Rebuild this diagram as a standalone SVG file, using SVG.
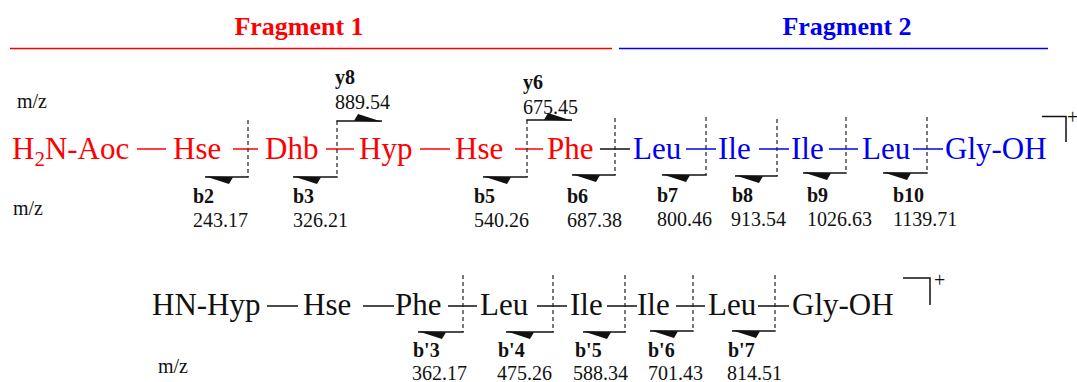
<svg xmlns="http://www.w3.org/2000/svg" xmlns:xlink="http://www.w3.org/1999/xlink" width="1077" height="382" viewBox="0 0 1077 382">
<style>
.res{font-family:"Liberation Serif","Times New Roman",serif;font-size:31px}
.red{fill:#f00}
.blue{fill:#0000f0}
.blk{fill:#111}
.ttl{font-family:"Liberation Serif","Times New Roman",serif;font-size:26px;font-weight:bold;text-anchor:middle}
.lab{font-family:"Liberation Serif","Times New Roman",serif;font-size:20px;font-weight:bold;fill:#111}
.num{font-family:"Liberation Serif","Times New Roman",serif;font-size:20px;fill:#111}
.bondR{stroke:#f00;stroke-width:1.5;fill:none}
.bondB{stroke:#0000f0;stroke-width:1.5;fill:none}
.bondK{stroke:#111;stroke-width:1.5;fill:none}
.cut{stroke:#222;stroke-width:1.2;stroke-dasharray:4 3;fill:none}
.brk{stroke:#111;stroke-width:1.5;fill:none}
.wedge{fill:#111}
</style>
<defs>
<path id="wb" d="M0,-0.8 L28,0.2 L24,7 Z"/>
<path id="wy" d="M0,0.8 L-28,-0.2 L-24,-7 Z"/>
</defs>
<rect width="1077" height="382" fill="#fff"/>

<g id="fragment-headers">
<text class="ttl red" x="299" y="35">Fragment 1</text>
<line x1="10" y1="48.5" x2="612" y2="48.5" stroke="#f00" stroke-width="1.6"/>
<text class="ttl blue" x="847" y="35">Fragment 2</text>
<line x1="619" y1="48.5" x2="1048" y2="48.5" stroke="#0000f0" stroke-width="1.6"/>
</g>

<g id="connectors">
<line class="bondR" x1="137" y1="149" x2="166" y2="149"/>
<line class="bondR" x1="233" y1="149" x2="258" y2="149"/>
<line class="bondR" x1="326" y1="149" x2="354" y2="149"/>
<line class="bondR" x1="420" y1="149" x2="450" y2="149"/>
<line class="bondR" x1="515" y1="149" x2="543" y2="149"/>
<line class="bondK" x1="600" y1="149" x2="630" y2="149"/>
<line class="bondB" x1="686" y1="149" x2="716" y2="149"/>
<line class="bondB" x1="759" y1="149" x2="789" y2="149"/>
<line class="bondB" x1="829" y1="149" x2="858" y2="149"/>
<line class="bondB" x1="913" y1="149" x2="943" y2="149"/>
<line class="bondK" x1="267" y1="306" x2="298" y2="306"/>
<line class="bondK" x1="363" y1="306" x2="394" y2="306"/>
<line class="bondK" x1="448" y1="306" x2="477" y2="306"/>
<line class="bondK" x1="537" y1="306" x2="567" y2="306"/>
<line class="bondK" x1="607" y1="306" x2="637" y2="306"/>
<line class="bondK" x1="676" y1="306" x2="705" y2="306"/>
<line class="bondK" x1="758" y1="306" x2="789" y2="306"/>
</g>

<g id="peptide-1">
<g id="r1-aoc"><text class="res red" x="12" y="159">H<tspan font-size="21" dy="7">2</tspan><tspan dy="-7">N-Aoc</tspan></text></g>
<g id="r1-hse1"><text class="res red" x="173" y="159">Hse</text></g>
<g id="r1-dhb"><text class="res red" x="265" y="159">Dhb</text></g>
<g id="r1-hyp"><text class="res red" x="359" y="159">Hyp</text></g>
<g id="r1-hse2"><text class="res red" x="455" y="159">Hse</text></g>
<g id="r1-phe"><text class="res red" x="547" y="159">Phe</text></g>
<g id="r1-leu1"><text class="res blue" x="633" y="159">Leu</text></g>
<g id="r1-ile1"><text class="res blue" x="718" y="159">Ile</text></g>
<g id="r1-ile2"><text class="res blue" x="791" y="159">Ile</text></g>
<g id="r1-leu2"><text class="res blue" x="862" y="159">Leu</text></g>
<g id="r1-gly"><text class="res blue" x="945" y="159">Gly-OH</text></g>
<g id="r1-charge">
<path class="brk" d="M1042,116.5 H1066 V142"/>
<text class="num" x="1067" y="124" font-size="12">+</text>
</g>
<text class="num" x="17" y="108">m/z</text>
<text class="num" x="13" y="215">m/z</text>
</g>

<g id="ions-1">
<g id="b2"><line class="cut" x1="248" y1="120" x2="248" y2="177"/><line class="brk" x1="205" y1="177" x2="248.7" y2="177"/><use href="#wb" x="205" y="177" class="wedge"/>
<text class="lab" x="193" y="203">b2</text><text class="num" x="193" y="227">243.17</text></g>
<g id="b3-y8"><line class="cut" x1="337" y1="121" x2="337" y2="177"/><line class="brk" x1="293" y1="177" x2="337.7" y2="177"/><use href="#wb" x="293" y="177" class="wedge"/>
<text class="lab" x="293" y="203">b3</text><text class="num" x="293" y="227">326.21</text>
<line class="brk" x1="336.3" y1="121" x2="382" y2="121"/><use href="#wy" x="382" y="121" class="wedge"/>
<text class="lab" x="335" y="84">y8</text><text class="num" x="335" y="109">889.54</text></g>
<g id="b5-y6"><line class="cut" x1="527" y1="120" x2="527" y2="177"/><line class="brk" x1="483" y1="177" x2="527.7" y2="177"/><use href="#wb" x="483" y="177" class="wedge"/>
<text class="lab" x="474" y="203">b5</text><text class="num" x="474" y="227">540.26</text>
<line class="brk" x1="526.3" y1="120" x2="572" y2="120"/><use href="#wy" x="572" y="120" class="wedge"/>
<text class="lab" x="523" y="89">y6</text><text class="num" x="523" y="114">675.45</text></g>
<g id="b6"><line class="cut" x1="615" y1="118" x2="615" y2="175"/><line class="brk" x1="572" y1="175" x2="615.7" y2="175"/><use href="#wb" x="572" y="175" class="wedge"/>
<text class="lab" x="567" y="203">b6</text><text class="num" x="567" y="227">687.38</text></g>
<g id="b7"><line class="cut" x1="706" y1="117" x2="706" y2="175"/><line class="brk" x1="662" y1="175" x2="706.7" y2="175"/><use href="#wb" x="662" y="175" class="wedge"/>
<text class="lab" x="657" y="202">b7</text><text class="num" x="657" y="226">800.46</text></g>
<g id="b8"><line class="cut" x1="777" y1="119" x2="777" y2="176"/><line class="brk" x1="735" y1="176" x2="777.7" y2="176"/><use href="#wb" x="735" y="176" class="wedge"/>
<text class="lab" x="732" y="202">b8</text><text class="num" x="731" y="226">913.54</text></g>
<g id="b9"><line class="cut" x1="846" y1="117" x2="846" y2="173"/><line class="brk" x1="803" y1="173" x2="846.7" y2="173"/><use href="#wb" x="803" y="173" class="wedge"/>
<text class="lab" x="807" y="202">b9</text><text class="num" x="807" y="226">1026.63</text></g>
<g id="b10"><line class="cut" x1="927" y1="117" x2="927" y2="173"/><line class="brk" x1="883" y1="173" x2="927.7" y2="173"/><use href="#wb" x="883" y="173" class="wedge"/>
<text class="lab" x="893" y="202">b10</text><text class="num" x="893" y="226">1139.71</text></g>
</g>

<g id="peptide-2">
<g id="r2-hyp"><text class="res blk" x="152" y="315">HN-Hyp</text></g>
<g id="r2-hse"><text class="res blk" x="303" y="315">Hse</text></g>
<g id="r2-phe"><text class="res blk" x="395" y="315">Phe</text></g>
<g id="r2-leu1"><text class="res blk" x="480" y="315">Leu</text></g>
<g id="r2-ile1"><text class="res blk" x="570" y="315">Ile</text></g>
<g id="r2-ile2"><text class="res blk" x="637" y="315">Ile</text></g>
<g id="r2-leu2"><text class="res blk" x="708" y="315">Leu</text></g>
<g id="r2-gly"><text class="res blk" x="792" y="315">Gly-OH</text></g>
<g id="r2-charge">
<path class="brk" d="M903,278 H930 V305"/>
<text class="num" x="934" y="287" font-size="19">+</text>
</g>
<text class="num" x="158" y="373">m/z</text>
</g>

<g id="ions-2">
<g id="bp3"><line class="cut" x1="463" y1="275" x2="463" y2="332"/><line class="brk" x1="418" y1="332" x2="463.7" y2="332"/><use href="#wb" x="418" y="332" class="wedge"/>
<text class="lab" x="413" y="357">b'3</text><text class="num" x="412" y="380">362.17</text></g>
<g id="bp4"><line class="cut" x1="553" y1="275" x2="553" y2="332"/><line class="brk" x1="506" y1="332" x2="553.7" y2="332"/><use href="#wb" x="506" y="332" class="wedge"/>
<text class="lab" x="498" y="357">b'4</text><text class="num" x="497" y="380">475.26</text></g>
<g id="bp5"><line class="cut" x1="625" y1="275" x2="625" y2="332"/><line class="brk" x1="583" y1="332" x2="625.7" y2="332"/><use href="#wb" x="583" y="332" class="wedge"/>
<text class="lab" x="575" y="357">b'5</text><text class="num" x="573" y="380">588.34</text></g>
<g id="bp6"><line class="cut" x1="693" y1="275" x2="693" y2="331"/><line class="brk" x1="650" y1="331" x2="693.7" y2="331"/><use href="#wb" x="650" y="331" class="wedge"/>
<text class="lab" x="648" y="357">b'6</text><text class="num" x="648" y="380">701.43</text></g>
<g id="bp7"><line class="cut" x1="775" y1="275" x2="775" y2="331"/><line class="brk" x1="732" y1="331" x2="775.7" y2="331"/><use href="#wb" x="732" y="331" class="wedge"/>
<text class="lab" x="728" y="357">b'7</text><text class="num" x="727" y="380">814.51</text></g>
</g>
</svg>
